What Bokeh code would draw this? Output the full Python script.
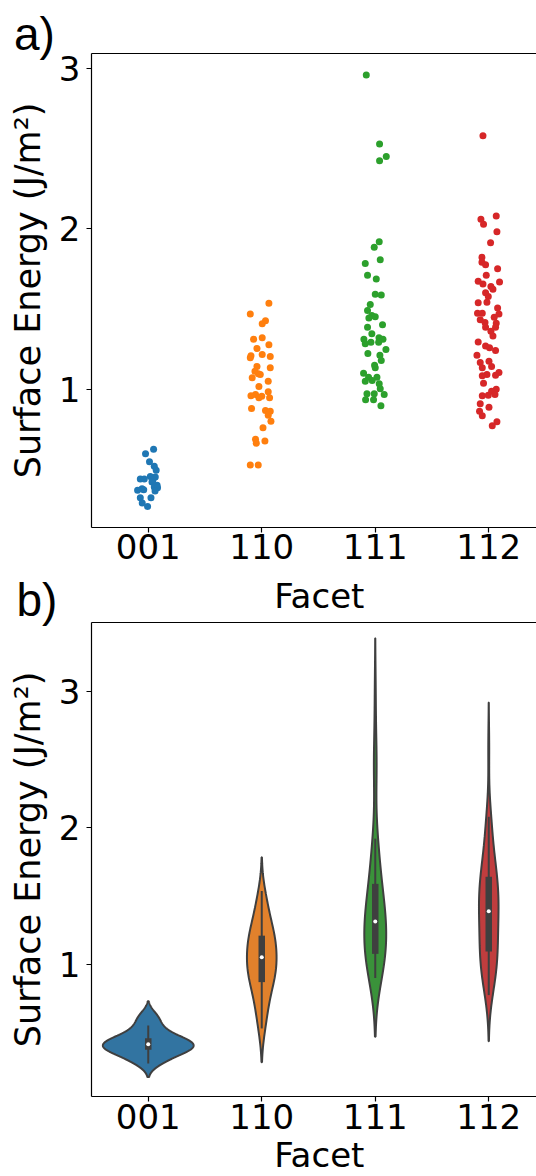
import numpy as np
from bokeh.plotting import figure
from bokeh.layouts import column
from bokeh.models import Range1d, FixedTicker, LinearAxis, Label
from bokeh.embed import file_html
from bokeh.resources import INLINE

# ---------------- data ----------------
facets = ["001", "110", "111", "112"]

e001 = [0.631, 0.602, 0.553, 0.524, 0.499, 0.457, 0.461, 0.445, 0.445, 0.437, 0.426,
        0.406, 0.395, 0.391, 0.385, 0.379, 0.375, 0.370, 0.329, 0.329, 0.296, 0.275]
j001 = [0.047, -0.024, 0.011, 0.053, 0.070, 0.062, 0.018, -0.070, -0.035, 0.040, 0.033,
        0.078, 0.053, 0.082, -0.055, -0.040, -0.094, 0.060, -0.070, 0.024, -0.053, -0.006]

e110 = [1.538, 1.472, 1.430, 1.410, 1.314, 1.323, 1.280, 1.257, 1.219, 1.211, 1.207,
        1.199, 1.145, 1.137, 1.116, 1.100, 1.095, 1.075, 1.053, 1.020, 0.988, 0.971,
        0.963, 0.960, 0.950, 0.950, 0.884, 0.871, 0.867, 0.842, 0.805, 0.764, 0.693,
        0.681, 0.668, 0.532, 0.532]
j110 = [0.063, -0.101, 0.033, 0.004, -0.072, 0.004, 0.063, -0.042, 0.004, -0.095, 0.075,
        -0.101, -0.042, 0.075, -0.060, -0.030, -0.013, -0.084, 0.057, -0.025, 0.057, -0.055,
        -0.095, 0.000, -0.025, 0.069, -0.090, 0.033, 0.075, 0.057, 0.081, 0.011, -0.055,
        0.028, -0.048, -0.101, -0.031]

e111 = [2.958, 2.528, 2.451, 2.424, 1.921, 1.886, 1.809, 1.786, 1.712, 1.689, 1.594,
        1.590, 1.530, 1.493, 1.462, 1.455, 1.447, 1.404, 1.389, 1.348, 1.314, 1.296,
        1.323, 1.314, 1.296, 1.286, 1.250, 1.225, 1.215, 1.182, 1.153, 1.137, 1.103,
        1.078, 1.078, 1.053, 1.058, 1.037, 1.006, 0.971, 0.975, 0.975, 0.938, 0.938, 0.901]
j111 = [-0.079, 0.038, 0.097, 0.038, 0.035, -0.009, 0.044, -0.088, -0.068, 0.009, 0.000,
        0.053, -0.044, -0.068, -0.030, 0.000, -0.056, 0.064, -0.068, -0.030, -0.100, -0.038,
        0.033, 0.068, 0.030, -0.088, 0.094, -0.065, 0.041, 0.053, -0.006, 0.000, -0.103,
        -0.059, 0.015, -0.088, -0.027, 0.035, 0.044, 0.079, -0.073, -0.009, -0.085, -0.015, 0.050]

e112 = [2.580, 2.081, 2.060, 2.029, 1.983, 1.915, 1.824, 1.793, 1.778, 1.753, 1.712,
        1.675, 1.671, 1.658, 1.642, 1.625, 1.604, 1.580, 1.542, 1.544, 1.509, 1.476,
        1.476, 1.472, 1.435, 1.451, 1.418, 1.414, 1.389, 1.389, 1.364, 1.335, 1.298,
        1.273, 1.261, 1.244, 1.215, 1.170, 1.178, 1.145, 1.137, 1.107, 1.095, 1.091,
        1.087, 1.041, 1.004, 0.991, 0.963, 0.966, 0.971, 0.913, 0.892, 0.867, 0.839,
        0.801, 0.776]
j112 = [-0.051, 0.066, -0.069, -0.046, 0.072, 0.016, -0.060, -0.060, -0.028, 0.078, -0.022,
        -0.093, 0.095, -0.051, 0.019, 0.037, -0.028, -0.004, -0.093, -0.016, 0.078, -0.099,
        -0.057, 0.090, -0.075, 0.048, -0.033, 0.066, -0.028, 0.060, 0.019, 0.037, -0.093,
        -0.028, 0.007, 0.060, -0.104, -0.075, 0.002, 0.025, -0.057, 0.090, -0.016, 0.060,
        -0.057, -0.046, 0.066, 0.025, -0.057, -0.004, 0.055, -0.075, 0.002, -0.081, -0.057,
        0.072, 0.031]

energies = [e001, e110, e111, e112]
jitters = [j001, j110, j111, j112]
strip_colors = ["#1f77b4", "#ff7f0e", "#2ca02c", "#d62728"]
violin_colors = ["#3274a1", "#e1812c", "#3a923a", "#c03d3e"]
y_ticks = [1, 2, 3]
x_ticks = [0, 1, 2, 3]

FONT = "DejaVu Sans"
PANEL_FONT = "Liberation Sans"
GRAY = "#3f3f3f"

# visible axes box (data units) and the full canvas extent of each panel
X_LO, X_HI = -0.5, 3.4207
X_CANVAS = (-1.30176, 3.4207)
A_BOX = (0.14366, 3.09142)
A_CANVAS = (-0.14863, 3.4210)
B_BOX = (0.03403, 3.50274)
B_CANVAS = (-0.55141, 3.85401)


def make_fig(height, box, canvas, x_standoff):
    p = figure(width=536, height=height,
               x_range=Range1d(*X_CANVAS), y_range=Range1d(*canvas),
               output_backend="svg", toolbar_location=None,
               min_border=0, min_border_left=0, min_border_right=0,
               min_border_top=0, min_border_bottom=0)
    p.outline_line_color = None
    p.grid.visible = False
    p.background_fill_color = "white"
    p.border_fill_color = "white"

    xa = p.xaxis[0]
    xa.fixed_location = box[0]
    xa.bounds = (X_LO, X_HI)
    xa.ticker = FixedTicker(ticks=x_ticks)
    xa.major_label_overrides = {i: f for i, f in zip(x_ticks, facets)}
    ya = p.yaxis[0]
    ya.fixed_location = X_LO
    ya.bounds = box
    ya.ticker = FixedTicker(ticks=y_ticks)
    ya.axis_label = "Surface Energy (J/m²)"
    ya.axis_label_standoff = 8
    ya.axis_label_text_font_style = "normal"
    ya.axis_label_text_font = FONT
    ya.axis_label_text_font_size = "35px"
    ya.axis_label_text_color = "black"
    for ax in (xa, ya):
        ax.major_label_text_font = FONT
        ax.major_label_text_font_size = "34px"
        ax.major_label_text_color = "black"
        ax.axis_line_color = "black"
        ax.axis_line_width = 1.2
        ax.major_tick_line_color = "black"
        ax.major_tick_line_width = 1.2
        ax.major_tick_out = 5
        ax.major_tick_in = 0
        ax.minor_tick_line_color = None
    xa.major_label_standoff = x_standoff
    ya.major_label_standoff = 6

    top_ax = LinearAxis(ticker=FixedTicker(ticks=[]), major_label_text_font_size="0px",
                        major_tick_out=0, major_tick_in=0, minor_tick_line_color=None,
                        axis_line_color="black", axis_line_width=1.2,
                        fixed_location=box[1], bounds=(X_LO, X_HI))
    p.add_layout(top_ax, "above")
    return p


def text_label(p, x, y, txt, size, font=FONT, align="left"):
    p.add_layout(Label(x=x, y=y, text=txt, text_font=font, text_font_size=size,
                       text_color="black", text_align=align, text_baseline="alphabetic"))


# ---------------- panel a: strip plot ----------------
pa = make_fig(574, A_BOX, A_CANVAS, 2)
for i, (vals, jit, col) in enumerate(zip(energies, jitters, strip_colors)):
    xs = [i + j for j in jit]
    pa.scatter(xs, vals, size=7, fill_color=col, line_color=None)
text_label(pa, -1.1837, 3.2121, "a)", "46px", PANEL_FONT)

# ---------------- panel b: violin plot ----------------
pb = make_fig(602, B_BOX, B_CANVAS, 3)


def kde(vals):
    v = np.asarray(vals, dtype=float)
    n = len(v)
    bw = v.std(ddof=1) * n ** (-0.2)
    grid = np.linspace(v.min() - 2 * bw, v.max() + 2 * bw, 200)
    dens = np.exp(-0.5 * ((grid[:, None] - v[None, :]) / bw) ** 2).sum(1) / (n * bw * np.sqrt(2 * np.pi))
    return grid, dens


kdes = [kde(v) for v in energies]
gmax = max(d.max() for _, d in kdes)
for i, ((grid, dens), col, vals) in enumerate(zip(kdes, violin_colors, energies)):
    half = dens / gmax * 0.4
    xs = np.concatenate([i - half, (i + half)[::-1]])
    ys = np.concatenate([grid, grid[::-1]])
    pb.patch(xs, ys, fill_color=col, line_color=GRAY, line_width=2)
    v = np.asarray(vals)
    q25, q50, q75 = np.percentile(v, [25, 50, 75])
    wl = 1.5 * (q75 - q25)
    lo = v[v >= q25 - wl].min()
    hi = v[v <= q75 + wl].max()
    pb.segment(x0=[i], y0=[lo], x1=[i], y1=[hi], line_color=GRAY, line_width=2)
    pb.segment(x0=[i], y0=[q25], x1=[i], y1=[q75], line_color=GRAY, line_width=6.5, line_cap="butt")
    pb.scatter([i], [q50], size=4, fill_color="white", line_color=None)

text_label(pb, 1.507, 3.7003, "Facet", "34px", FONT, "center")
text_label(pb, -1.1608, 3.6703, "b)", "46px", PANEL_FONT)
text_label(pb, 1.507, -0.3934, "Facet", "34px", FONT, "center")

layout = column(pa, pb, spacing=0)
open("out.html", "w").write(file_html(layout, INLINE))
